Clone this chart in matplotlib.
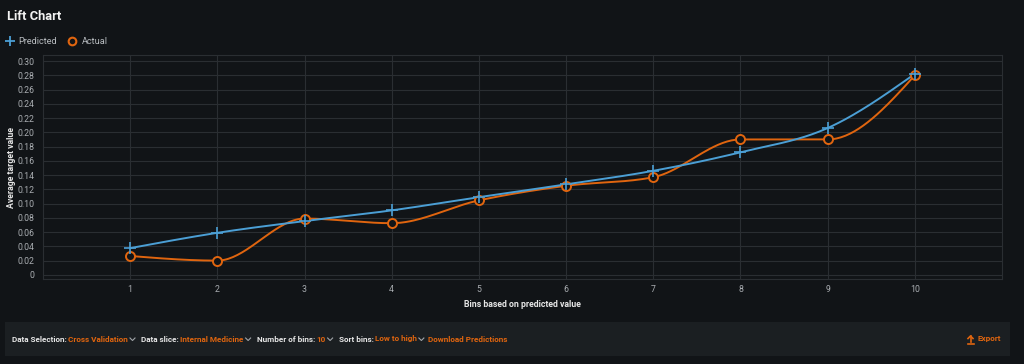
import numpy as np
import matplotlib.pyplot as plt
from matplotlib.lines import Line2D
from matplotlib.patches import Rectangle

plt.rcParams['font.family'] = ['Roboto', 'DejaVu Sans']

bins = [1, 2, 3, 4, 5, 6, 7, 8, 9, 10]
predicted = [0.0375, 0.059, 0.0755, 0.0905, 0.109, 0.127, 0.146, 0.172, 0.206, 0.282]
actual = [0.0265, 0.020, 0.079, 0.0725, 0.1045, 0.125, 0.137, 0.190, 0.190, 0.280]
yticks = [0, 0.02, 0.04, 0.06, 0.08, 0.10, 0.12, 0.14, 0.16, 0.18, 0.20, 0.22, 0.24, 0.26, 0.28, 0.30]
ytick_labels = ['0'] + ['%.2f' % v for v in yticks[1:]]

controls = [('Data Selection:', 'Cross Validation'), ('Data slice:', 'Internal Medicine'),
            ('Number of bins:', '10'), ('Sort bins:', 'Low to high')]

BG = '#111417'
GRID = '#2a2e32'
BLUE = '#4b9fd5'
ORANGE = '#e0650f'
TXT = '#e6e6e6'
TICK = '#a9adb1'


def monotone(x, y, n=40):
    # monotone cubic curve like d3.curveMonotoneX
    x = np.asarray(x, float)
    y = np.asarray(y, float)
    h = np.diff(x)
    s = np.diff(y) / h
    t = np.zeros(len(x))
    for i in range(1, len(x) - 1):
        p = (s[i - 1] * h[i] + s[i] * h[i - 1]) / (h[i - 1] + h[i])
        t[i] = (np.sign(s[i - 1]) + np.sign(s[i])) * min(abs(s[i - 1]), abs(s[i]), 0.5 * abs(p))
    t[0] = (3 * s[0] - t[1]) / 2
    t[-1] = (3 * s[-1] - t[-2]) / 2
    xs, ys = [], []
    for i in range(len(x) - 1):
        u = np.linspace(0, 1, n)
        h00 = 2 * u**3 - 3 * u**2 + 1
        h10 = u**3 - 2 * u**2 + u
        h01 = -2 * u**3 + 3 * u**2
        h11 = u**3 - u**2
        xs.append(x[i] + u * h[i])
        ys.append(h00 * y[i] + h10 * h[i] * t[i] + h01 * y[i + 1] + h11 * h[i] * t[i + 1])
    return np.concatenate(xs), np.concatenate(ys)


W, H = 1024, 364
fig = plt.figure(figsize=(W / 100, H / 100), dpi=100, facecolor=BG)
ax = fig.add_axes([43 / W, 1 - 279 / H, (1002 - 43) / W, (279 - 55) / H])
ax.set_facecolor(BG)

for b in bins:
    ax.axvline(b, color=GRID, lw=0.8, zorder=0)
for v in yticks:
    ax.axhline(v, color=GRID, lw=0.8, zorder=0)
for sp in ax.spines.values():
    sp.set_color(GRID)
    sp.set_linewidth(0.8)

px, py = monotone(bins, predicted)
ax.plot(px, py, color=BLUE, lw=1.4, zorder=3)
ax.plot(bins, predicted, ls='none', marker='+', ms=8, mew=1.2, color=BLUE, zorder=4)
qx, qy = monotone(bins, actual)
ax.plot(qx, qy, color=ORANGE, lw=1.4, zorder=2)
ax.plot(bins, actual, ls='none', marker='o', ms=6.5, mew=1.4, mec=ORANGE, mfc=BG, zorder=3)

ax.set_xlim(0, 11)
ax.set_ylim(-0.0058, 0.3085)
ax.set_xticks(bins)
ax.set_xticklabels([str(b) for b in bins])
ax.set_yticks(yticks)
ax.set_yticklabels(ytick_labels)
ax.tick_params(length=0, colors=TICK, labelsize=6.3, pad=6)
ax.tick_params(axis='x', pad=4)
ax.set_xlabel('Bins based on predicted value', color=TXT, fontsize=6.3, fontweight='bold')
ax.set_ylabel('Average target value', color=TXT, fontsize=6.3, fontweight='bold')
ax.xaxis.set_label_coords(0.5, -(300 - 279) / 224)
ax.yaxis.set_label_coords(-(43 - 16) / 959, 0.5)

# title and legend
fig.text(7 / W, 1 - 17 / H, 'Lift Chart', color='#f2f2f2', fontsize=9.3, fontweight='bold', va='center')
fig.add_artist(Line2D([10 / W], [1 - 41 / H], marker='+', ms=7, mew=1.3, color=BLUE, ls='none'))
fig.text(18 / W, 1 - 41 / H, 'Predicted', color='#b8bcc0', fontsize=6.6, va='center')
fig.add_artist(Line2D([72 / W], [1 - 41 / H], marker='o', ms=5.5, mew=1.5, mec=ORANGE, mfc=BG, ls='none'))
fig.text(82 / W, 1 - 41 / H, 'Actual', color='#b8bcc0', fontsize=6.6, va='center')

# bottom control bar
fig.add_artist(Rectangle((5 / W, 1 - 356 / H), (1010 - 5) / W, (356 - 322) / H,
                         transform=fig.transFigure, facecolor='#1b1f22', edgecolor='none'))
yb = 1 - 339 / H
renderer = fig.canvas.get_renderer()


def put(x, s, c):
    t = fig.text(x / W, yb, s, color=c, fontsize=5.9, fontweight='bold', va='center')
    return x + t.get_window_extent(renderer).width


x = 12
for label, value in controls:
    x = put(x, label, TXT) + 1.5
    x = put(x, value, ORANGE) + 2
    fig.add_artist(Line2D([x / W, (x + 2.5) / W, (x + 5) / W], [1 - 338 / H, 1 - 340.5 / H, 1 - 338 / H],
                          color='#a0a4a8', lw=0.8))
    x += 11
put(x - 2, 'Download Predictions', ORANGE)
put(977, 'Export', ORANGE)

# export icon
fig.add_artist(Line2D([970.5 / W, 970.5 / W], [1 - 342 / H, 1 - 336 / H], color=ORANGE, lw=1.2))
fig.add_artist(Line2D([968 / W, 970.5 / W, 973 / W], [1 - 338.5 / H, 1 - 336 / H, 1 - 338.5 / H], color=ORANGE, lw=1.2))
fig.add_artist(Line2D([967.5 / W, 973.5 / W], [1 - 343.5 / H, 1 - 343.5 / H], color=ORANGE, lw=1.2))

fig.savefig('out.png', dpi=100, facecolor=BG)
